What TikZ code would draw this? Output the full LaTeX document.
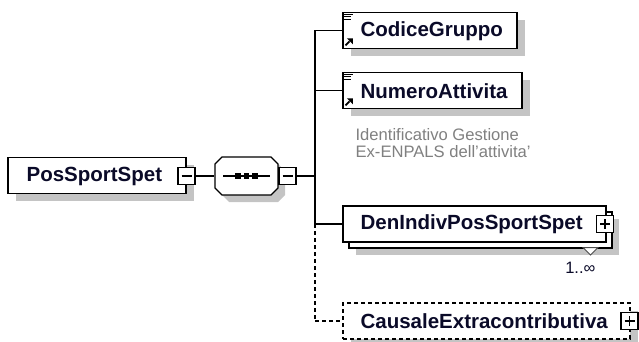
\documentclass[tikz,border=0pt]{standalone}
\usepackage{fontspec}
\setmainfont{Liberation Sans}
\definecolor{shadowgray}{RGB}{196,196,196}
\definecolor{docgray}{RGB}{128,128,128}
\definecolor{txtcol}{RGB}{10,10,40}
\begin{document}
\begin{tikzpicture}[x=1pt,y=-1pt,line width=1.2pt,
  elbox/.style={draw=black,fill=white,rectangle,inner sep=0pt,minimum height=36},
  shbox/.style={fill=shadowgray,draw=none,rectangle,inner sep=0pt,minimum height=36},
  optbox/.style={elbox,dash pattern=on 4pt off 3pt},
  ctrl/.style={draw=black,fill=white,rectangle,inner sep=0pt,minimum width=17,minimum height=17,line width=1.2pt},
  lbl/.style={anchor=west,inner sep=0pt,text=txtcol,font=\fontsize{20.5}{24}\selectfont\bfseries},
  conn/.style={draw=black,line width=1.3pt},
  optconn/.style={conn,dash pattern=on 4pt off 3pt}]
\useasboundingbox (0,0) rectangle (639,342);

% ---- root element
\node[shbox,minimum width=178] (mainsh) at (104.5,183) {};
\node[elbox,minimum width=178] (main) at (97,175.5) {};
\node[lbl] (maintxt) at (26,176) {PosSportSpet};
\node[ctrl] (mainctl) at (186.5,176) {};
\draw[line width=1.1pt] ([xshift=-5pt]mainctl.center) -- ([xshift=5pt]mainctl.center);

% ---- sequence compositor (octagon)
\fill[shadowgray] (229,164) -- (278,164) -- (285,171) -- (285,195) -- (278,202) -- (229,202) -- (222,195) -- (222,171) -- cycle;
\filldraw[fill=white,draw=black] (222,157) -- (271,157) -- (278,164) -- (278,188) -- (271,195) -- (222,195) -- (215,188) -- (215,164) -- cycle;
\node[inner sep=0pt,minimum width=63,minimum height=38] (seq) at (246.5,176) {};
\coordinate (seqa) at (223,176);
\coordinate (seqb) at (270,176);
\draw[line width=1.2pt] (seqa) -- (seqb);
\foreach \xx in {238,246.5,255}{\fill[black] (\xx-2.9,173.1) rectangle (\xx+2.9,178.9);}
\node[ctrl] (seqctl) at (287.5,176) {};
\draw[line width=1.1pt] ([xshift=-5pt]seqctl.center) -- ([xshift=5pt]seqctl.center);

\draw[conn] (mainctl.east) -- (seq.west);

% ---- bar
\coordinate (bar) at (315,176);
\coordinate (bartop) at (315,30.5);
\coordinate (barnum) at (315,90.5);
\coordinate (barden) at (315,224);
\coordinate (barcau) at (315,321);
\draw[conn] (seqctl.east) -- (bar);
\draw[conn] (bartop) -- (barden);
\draw[optconn] (barden) -- (barcau);

% ---- CodiceGruppo
\node[shbox,minimum width=174] (codsh) at (437.5,38) {};
\node[elbox,minimum width=174] (codice) at (430,30.5) {};
\node[lbl] (codtxt) at (360,31) {CodiceGruppo};
\draw[conn] (bartop) -- (codice.west);

% ---- NumeroAttivita
\node[shbox,minimum width=179] (numsh) at (440,98) {};
\node[elbox,minimum width=179] (numero) at (432.5,90.5) {};
\node[lbl] (numtxt) at (360,91) {NumeroAttivita};
\draw[conn] (barnum) -- (numero.west);

% icons for simple elements
\foreach \nn in {codice,numero}{
  \begin{scope}[shift={(\nn.north west)}]
    \draw[line width=1pt] (2,2.5) -- (11,2.5);
    \draw[line width=1pt] (2,5) -- (9,5);
    \draw[line width=1pt] (2,7.5) -- (9,7.5);
    \draw[line width=1.8pt] (3,33.5) -- (7,29.5);
    \fill[black] (4.5,26.5) -- (10.5,26.5) -- (10.5,32.5) -- cycle;
  \end{scope}
}

\node[anchor=north west,inner sep=0pt,align=left,text=docgray,
  font=\fontsize{16.6}{17}\selectfont] (doc) at (355,127.5)
  {Identificativo Gestione\\Ex-ENPALS dell'attivita'};

% ---- DenIndivPosSportSpet (repeated)
\node[shbox,minimum width=263] (densh) at (487.5,237) {};
\node[elbox,minimum width=263] (denback) at (480.5,230) {};
\node[elbox,minimum width=263] (den) at (474.5,224) {};
\node[lbl] (dentxt) at (360,224.5) {DenIndivPosSportSpet};
\node[ctrl] (denctl) at (605,224) {};
\draw[line width=1.1pt] ([xshift=-5pt]denctl.center) -- ([xshift=5pt]denctl.center);
\draw[line width=1.1pt] ([yshift=-5pt]denctl.center) -- ([yshift=5pt]denctl.center);
\draw[conn] (barden) -- (den.west);
\coordinate (tria) at (583,247.5);
\coordinate (trib) at (598,247.5);
\coordinate (tric) at (590.5,255);
\filldraw[fill=white,draw=black!70,line width=1pt] (tria) -- (trib) -- (tric) -- cycle;
\node[anchor=east,inner sep=0pt,text=txtcol,font=\fontsize{16.5}{18}\selectfont] (mult) at (596,268) {1..∞};

% ---- CausaleExtracontributiva (optional)
\node[shbox,minimum width=287] (caush) at (494,328.5) {};
\node[optbox,minimum width=287] (causale) at (486.5,321) {};
\node[lbl] (cautxt) at (360,321.5) {CausaleExtracontributiva};
\node[ctrl] (cauctl) at (629.5,321) {};
\draw[line width=1.1pt] ([xshift=-5pt]cauctl.center) -- ([xshift=5pt]cauctl.center);
\draw[line width=1.1pt] ([yshift=-5pt]cauctl.center) -- ([yshift=5pt]cauctl.center);
\draw[optconn] (barcau) -- (causale.west);
\end{tikzpicture}
\end{document}
